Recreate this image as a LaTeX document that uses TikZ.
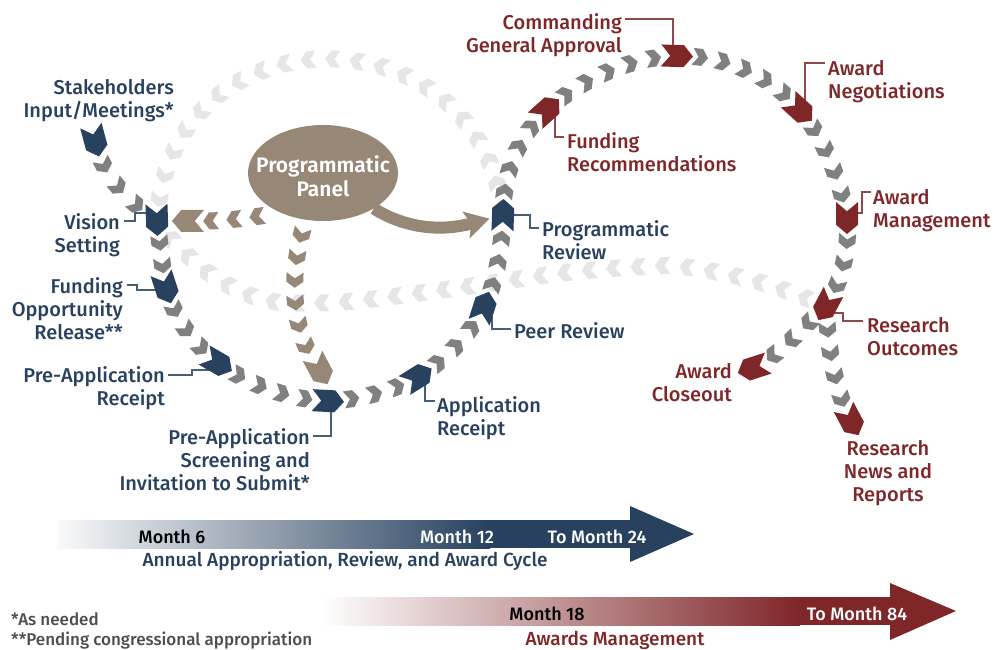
\documentclass[tikz,border=0pt]{standalone}
\usepackage{fontspec}
\setmainfont{Fira Sans}[UprightFont={* Medium},BoldFont={* SemiBold}]
\usetikzlibrary{shapes.geometric,shapes.symbols,decorations.markings,arrows.meta}
\definecolor{navy}{RGB}{39,65,95}
\definecolor{wine}{RGB}{127,38,41}
\definecolor{chgray}{RGB}{128,128,128}
\definecolor{chlight}{RGB}{230,230,230}
\definecolor{tanc}{RGB}{151,135,119}
\definecolor{notegray}{RGB}{77,77,77}
\pgfdeclarelayer{bg}\pgfdeclarelayer{mid}\pgfsetlayers{bg,mid,main}
\begin{document}
\begin{tikzpicture}[x=1pt,y=-1pt,
  bigchev/.style={shape=signal, signal to=east, signal from=west, signal pointer angle=100,
    minimum width=32pt, minimum height=22pt, inner sep=0pt, fill=#1},
  chevs/.style n args={4}{postaction={decorate,decoration={markings,
    mark=between positions #2 and #3 step #4 with {\fill[#1] (-7.5,-8.5) -- (2,-8.5) -- (8,0) -- (2,8.5) -- (-7.5,8.5) -- (-1.5,0) -- cycle;}}}},
  gtwo/.style={chevs={chgray}{0.3333}{0.67}{0.3333}},
  gthree/.style={chevs={chgray}{0.25}{0.76}{0.25}},
  gfour/.style={chevs={chgray}{0.2}{0.81}{0.2}},
  gfive/.style={chevs={chgray}{0.16667}{0.84}{0.16667}},
  lbl/.style={font=\fontsize{20}{23}\selectfont, inner sep=0pt, text=#1},
  tl/.style={font=\fontsize{18}{20}\selectfont, inner sep=0pt, anchor=base, text=#1},
  note/.style={font=\fontsize{17}{20}\selectfont, inner sep=0pt, anchor=base west, text=notegray},
  conn/.style={draw=#1, line width=1.1pt}
]
\useasboundingbox (0,0) rectangle (1005,650);

% ---------- key chevrons ----------
\node[bigchev=navy, rotate=-75]  (stk)   at (95,141)  {};
\node[bigchev=navy, rotate=-88]  (vis)   at (157,220) {};
\node[bigchev=navy, rotate=-72]  (fund)  at (166,288) {};
\node[bigchev=navy, rotate=-30]  (prer)  at (218,363) {};
\node[bigchev=navy, rotate=-3]   (scr)   at (328,401) {};
\node[bigchev=navy, rotate=32]   (appr)  at (418,377) {};
\node[bigchev=navy, rotate=72]   (peer)  at (484,307) {};
\node[bigchev=navy, rotate=88]   (progr) at (503,215) {};
\node[bigchev=wine, rotate=42]   (frec)  at (547,110) {};
\node[bigchev=wine, rotate=-2]   (cga)   at (677,56)  {};
\node[bigchev=wine, rotate=-42]  (aneg)  at (800,110) {};
\node[bigchev=wine, rotate=-90]  (amgt)  at (847,218) {};
\node[bigchev=wine, rotate=-118] (rout)  at (826,306) {};
\node[bigchev=wine, rotate=-162] (aclo)  at (753,368) {};
\node[bigchev=wine, rotate=-62]  (rnews) at (851,421) {};
\node[bigchev=tanc, rotate=180]  (tanL)  at (188,221) {};
\node[bigchev=tanc, rotate=-62]  (tanD)  at (320,370) {};

% ---------- panel ----------
\node[ellipse, fill=tanc, minimum width=150pt, minimum height=96pt, inner sep=0pt] (panel) at (323,173) {};
\node[font=\fontsize{21}{24}\selectfont\bfseries, text=white, align=center, inner sep=0pt]
  (panellbl) at ([yshift=-3pt]panel.center) {Programmatic\\Panel};

% ---------- labels ----------
\node[lbl=navy, align=right, anchor=north east] (stklbl)   at (174,79)  {Stakeholders\\Input/Meetings*};
\node[lbl=navy, align=right, anchor=north east] (vislbl)   at (120,213) {Vision\\Setting};
\node[lbl=navy, align=right, anchor=north east] (fundlbl)  at (123,277) {Funding\\Opportunity\\Release**};
\node[lbl=navy, align=right, anchor=north east] (prerlbl)  at (165,366) {Pre-Application\\Receipt};
\node[lbl=navy, align=right, anchor=north east] (scrlbl)   at (310,428) {Pre-Application\\Screening and\\Invitation to Submit*};
\node[lbl=navy, align=left,  anchor=north west] (apprlbl)  at (437,396) {Application\\Receipt};
\node[lbl=navy, align=left,  anchor=north west] (peerlbl)  at (514,322) {Peer Review};
\node[lbl=navy, align=left,  anchor=north west] (progrlbl) at (542,220) {Programmatic\\Review};
\node[lbl=wine, align=left,  anchor=north west] (freclbl)  at (567,132) {Funding\\Recommendations};
\node[lbl=wine, align=right, anchor=north east] (cgalbl)   at (622,13)  {Commanding\\General Approval};
\node[lbl=wine, align=left,  anchor=north west] (aneglbl)  at (828,60)  {Award\\Negotiations};
\node[lbl=wine, align=left,  anchor=north west] (amgtlbl)  at (873,189) {Award\\Management};
\node[lbl=wine, align=left,  anchor=north west] (routlbl)  at (867,317) {Research\\Outcomes};
\node[lbl=wine, align=right, anchor=north east] (aclolbl)  at (732,363) {Award\\Closeout};
\node[lbl=wine, align=center, anchor=north]     (rnewslbl) at (888,440) {Research\\News and\\Reports};

% ---------- chevron chains ----------
\begin{pgfonlayer}{bg}
  % faded return arcs
  \path[chevs={chlight}{8pt}{-12pt}{24.5pt}] (progr.center) .. controls (480,6) and (170,6) .. (vis.center);
  \path[chevs={chlight}{22pt}{-14pt}{24.5pt}] plot[smooth, tension=0.6] coordinates
     {(826,306) (763,283) (687,267) (637,267) (563,273) (464,287) (364,300) (314,303) (266,300) (219,280) (180,248) (157,220)};
  % tan chains
  \path[chevs={tanc}{0.25}{0.76}{0.25}] (panel.223) .. controls (250,218) and (220,222) .. (tanL.center);
  \path[chevs={tanc}{0.1}{0.84}{0.145}] (panel.250) .. controls (290,265) and (288,330) .. (tanD.center);
  \draw[tanc, line width=12pt, -{Stealth[length=24pt,width=27pt,inset=5pt]}, shorten >=14pt]
     (panel.-35) .. controls (405,228) and (440,232) .. (progr.center);
  % main cycle
  \path[gthree] (stk.center)   .. controls (101,172) and (125,200) .. (vis.center);
  \path[gtwo]   (vis.center)   .. controls (160,245) and (162,265) .. (fund.center);
  \path[gthree] (fund.center)  .. controls (175,320) and (195,345) .. (prer.center);
  \path[gfour]  (prer.center)  .. controls (250,385) and (290,400) .. (scr.center);
  \path[gthree] (scr.center)   .. controls (360,400) and (395,390) .. (appr.center);
  \path[gthree] (appr.center)  .. controls (445,360) and (470,335) .. (peer.center);
  \path[gthree] (peer.center)  .. controls (495,285) and (502,250) .. (progr.center);
  \path[gfour]  (progr.center) .. controls (503,170) and (520,135) .. (frec.center);
  \path[gfive]  (frec.center)  .. controls (580,80) and (630,57) .. (cga.center);
  \path[gfive]  (cga.center)   .. controls (730,55) and (775,80) .. (aneg.center);
  \path[gfour]  (aneg.center)  .. controls (825,140) and (840,180) .. (amgt.center);
  \path[gthree] (amgt.center)  .. controls (850,250) and (840,285) .. (rout.center);
  \path[gthree] (rout.center)  .. controls (800,330) and (780,355) .. (aclo.center);
  \path[gfour]  (rout.center)  .. controls (828,350) and (835,390) .. (rnews.center);
\end{pgfonlayer}

% ---------- label connectors ----------
\begin{pgfonlayer}{mid}
  \draw[conn=navy!85] ([xshift=4pt,yshift=-8pt]vislbl.north east) -- ++(11,0) |- ([xshift=-5pt,yshift=7pt]vis.center);
  \draw[conn=navy!85] ([xshift=4pt,yshift=-8pt]fundlbl.north east) -- ++(10,0) |- ([yshift=-2pt]fund.center);
  \draw[conn=navy!85] ([xshift=3pt,yshift=-9pt]prerlbl.north east) -- ++(24,0) |- ([yshift=-7pt]prer.center);
  \draw[conn=navy!85] ([xshift=3pt,yshift=-8pt]scrlbl.north east) -| ([xshift=3pt]scr.center);
  \draw[conn=navy!85] ([xshift=7pt]appr.center) |- ([xshift=-2pt,yshift=-5pt]apprlbl.north west);
  \draw[conn=navy!85] ([xshift=8pt]peer.center) |- ([xshift=-3pt,yshift=-7pt]peerlbl.north west);
  \draw[conn=navy!85] (progr.center) -- ([xshift=27pt]progr.center) |- ([xshift=-3pt,yshift=-8pt]progrlbl.north west);
  \draw[conn=wine!85] ([xshift=8pt]frec.center) |- ([xshift=-3pt,yshift=-5pt]freclbl.north west);
  \draw[conn=wine!85] ([xshift=3pt,yshift=-6pt]cgalbl.north east) -| ([xshift=-4pt]cga.center);
  \draw[conn=wine!85] ([xshift=5pt]aneg.center) |- ([xshift=-3pt,yshift=-3pt]aneglbl.north west);
  \draw[conn=wine!85] ([yshift=5pt]amgt.center) -- ++(15,0) |- ([xshift=-2pt,yshift=-3pt]amgtlbl.north west);
  \draw[conn=wine!85] ([yshift=-7pt]rout.center) -- ++(17,0) |- ([xshift=-4pt,yshift=-4pt]routlbl.north west);
\end{pgfonlayer}

% ---------- timelines ----------
\shade[left color=navy!3, right color=navy] (58,520) rectangle (490,548);
\fill[navy] (489,520) rectangle (632,548);
\fill[navy] (630,506) -- (694,534) -- (630,562) -- cycle;
\node[tl=black] (m6)  at (172,543) {Month 6};
\node[tl=white] (m12) at (457,543) {Month 12};
\node[tl=white] (m24) at (597,543) {To Month 24};
\node[tl=navy, font=\fontsize{19}{21}\selectfont] (cyc) at (345,566) {Annual Appropriation, Review, and Award Cycle};

\shade[left color=white, right color=wine] (321,597) rectangle (800,625);
\fill[wine] (799,597) rectangle (892,625);
\fill[wine] (890,583) -- (956,611) -- (890,640) -- cycle;
\node[tl=black] (m18) at (547,620) {Month 18};
\node[tl=white] (m84) at (857,620) {To Month 84};
\node[tl=wine, font=\fontsize{19}{21}\selectfont]  (amg) at (615,645) {Awards Management};

\node[note] (n1) at (11,625) {*As needed};
\node[note] (n2) at (11,645) {**Pending congressional appropriation};
\end{tikzpicture}
\end{document}
